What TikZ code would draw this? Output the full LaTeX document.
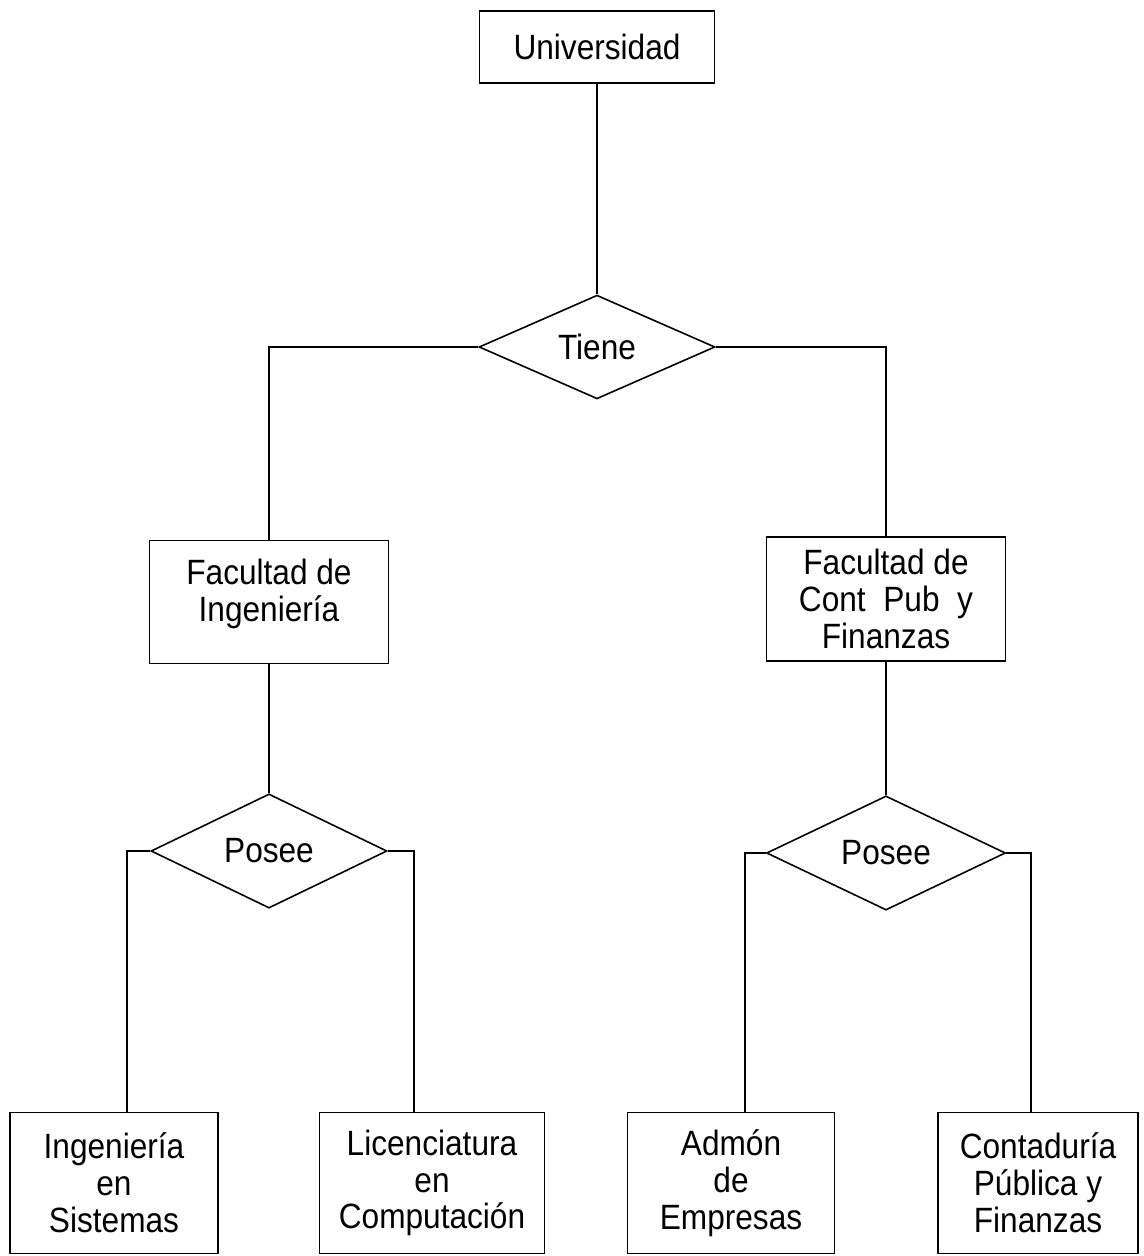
\documentclass[tikz,border=0pt]{standalone}
\usepackage{fontspec}
\setmainfont{Liberation Sans}[FakeStretch=0.9]
\usetikzlibrary{shapes, positioning, calc}

\begin{document}
\begin{tikzpicture}[x=0.02cm, y=-0.02cm, line width=0.9pt,
    entidad/.style={draw, rectangle, align=center, inner sep=0pt, font=\fontsize{20}{21}\selectfont},
    relacion/.style={draw, diamond, inner sep=0pt, font=\fontsize{20}{21}\selectfont}]
    \useasboundingbox (0,0) rectangle (1143,1256);

    \node[entidad, minimum width=4.7cm, minimum height=1.44cm] (univ) at (597,47) {Universidad};
    \node[relacion, minimum width=4.72cm, minimum height=1.94cm] (tiene) at (597,347) {Tiene};
    \node[entidad, minimum width=4.78cm, minimum height=2.46cm] (facing) at (269,602) {Facultad de\\Ingeniería\\[-8pt]};
    \node[entidad, minimum width=4.78cm, minimum height=2.48cm] (faccont) at (886,599) {Facultad de\\Cont~ Pub~ y\\Finanzas};

    \node[relacion, minimum width=4.72cm, minimum height=1.9cm] (poseeing) at (269,851) {Posee};
    \node[relacion, minimum width=4.78cm, minimum height=1.98cm] (poseecont) at (886,853) {Posee};

    \node[entidad, minimum width=4.16cm, minimum height=2.82cm] (sistemas) at (114,1183) {Ingeniería\\en\\Sistemas};
    \node[entidad, minimum width=4.5cm, minimum height=2.82cm] (computacion) at (432,1183) {Licenciatura\\en\\Computación};
    \node[entidad, minimum width=4.14cm, minimum height=2.82cm] (empresas) at (731,1183) {Admón\\de\\Empresas};
    \node[entidad, minimum width=4cm, minimum height=2.82cm] (contaduria) at (1038,1183) {Contaduría\\Pública y\\Finanzas};

    \draw (univ) -- (tiene);
    \draw (tiene.west) -| (facing.north);
    \draw (tiene.east) -| (faccont.north);
    \draw (facing) -- (poseeing);
    \draw (faccont) -- (poseecont);
    \draw (poseeing.west) -| ([xshift=0.26cm]sistemas.north);
    \draw (poseeing.east) -| ([xshift=-0.36cm]computacion.north);
    \draw (poseecont.west) -| ([xshift=0.28cm]empresas.north);
    \draw (poseecont.east) -| ([xshift=-0.14cm]contaduria.north);
\end{tikzpicture}
\end{document}
